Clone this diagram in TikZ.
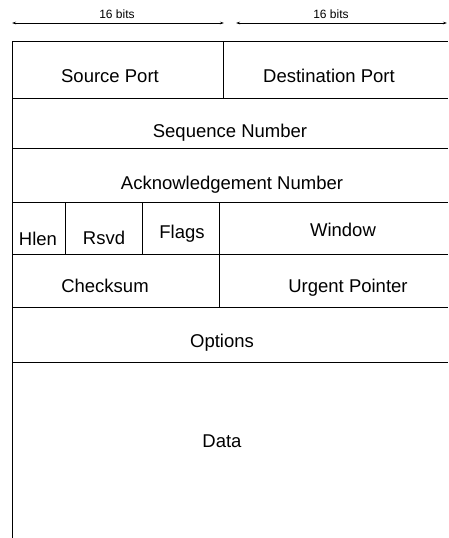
\documentclass[tikz,border=0pt]{standalone}
\usepackage{fontspec}
\setmainfont{Liberation Sans}
\usetikzlibrary{positioning,calc}
\usetikzlibrary{arrows.meta}
\tikzset{field/.style={anchor=base,font=\fontsize{18.5}{20}\selectfont},
         bits/.style={anchor=base,font=\fontsize{12}{14}\selectfont},
         rule/.style={line width=0.8pt},
         span/.style={line width=0.6pt,{Stealth[length=4pt,width=2.5pt]}-{Stealth[length=4pt,width=2.5pt]}}}

\begin{document}
\begin{tikzpicture}[x=1pt,y=-1pt]
      \useasboundingbox (0,0) rectangle (448,538);

      \coordinate (b0) at (12,23);
      \coordinate (b1) at (224,23);
      \coordinate (b2) at (236,23);
      \coordinate (b3) at (447,23);
      \node[bits] (w0) at (117,19) {16 bits};
      \node[bits] (w1) at (331,19) {16 bits};
      \draw[span] (b0) -- (b1);
      \draw[span] (b2) -- (b3);

      \foreach \y/\n in {41/r0,98/r1,148/r2,202/r3,254/r4,307/r5,362/r6} {
         \coordinate (\n l) at (12,\y);
         \coordinate (\n r) at (448,\y);
         \draw[rule] (\n l) -- (\n r);
      }
      \coordinate (bot) at (12,538);
      \draw[rule] (r0l) -- (bot);

      \draw[rule] (223,41) -- (223,98);
      \draw[rule] (219,202) -- (219,307);
      \draw[rule] (65,202) -- (65,254);
      \draw[rule] (142,202) -- (142,254);

      \node[field] (sp) at (110,82) {Source Port};
      \node[field] (dp) at (329,82) {Destination Port};
      \node[field] (sn) at (230,137) {Sequence Number};
      \node[field] (an) at (232,189) {Acknowledgement Number};
      \node[field] (hl) at (38,245) {Hlen};
      \node[field] (rs) at (104,244) {Rsvd};
      \node[field] (fl) at (182,238) {Flags};
      \node[field] (wn) at (343,236) {Window};
      \node[field] (cs) at (105,292) {Checksum};
      \node[field] (up) at (348,292) {Urgent Pointer};
      \node[field] (op) at (222,347) {Options};
      \node[field] (da) at (222,447) {Data};
   \end{tikzpicture}
\end{document}
